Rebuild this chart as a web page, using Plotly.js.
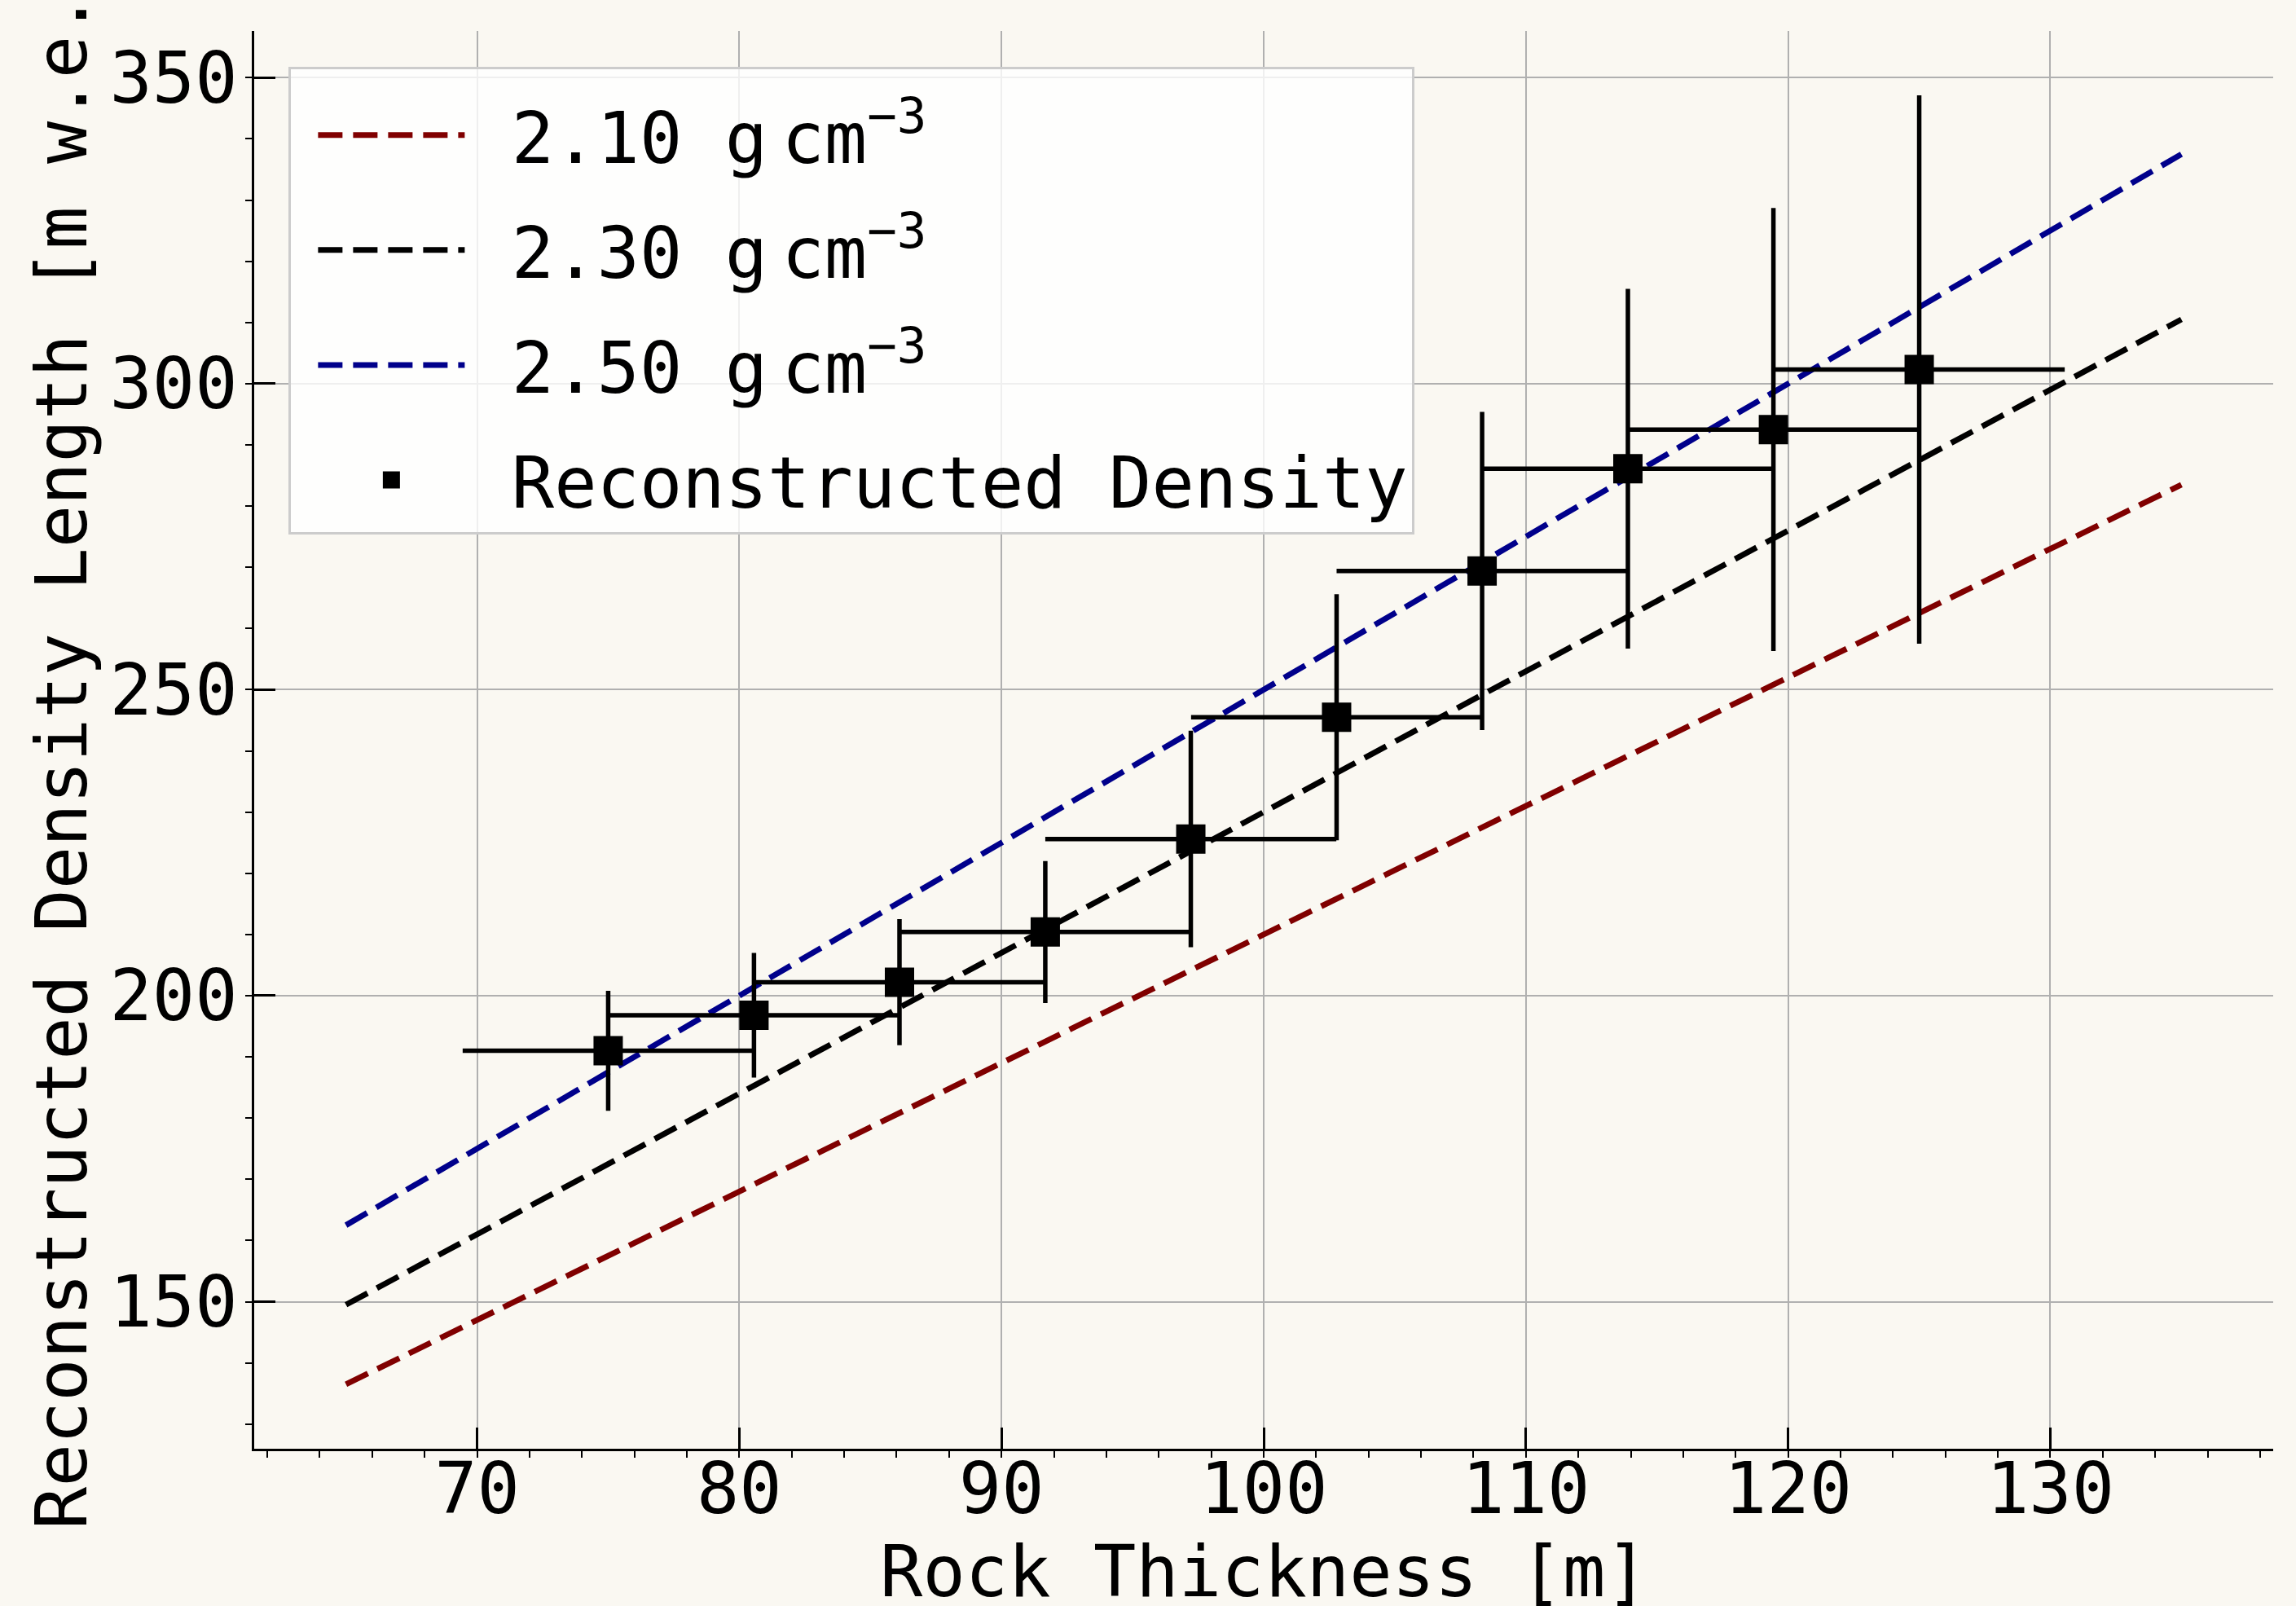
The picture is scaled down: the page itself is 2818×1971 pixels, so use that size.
<!DOCTYPE html>
<html>
<head>
<meta charset="utf-8">
<script src="https://cdn.plot.ly/plotly-3.0.1.min.js"></script>
<style>
html,body{margin:0;padding:0;background:#faf8f2;}
#chart{width:2818px;height:1971px;}
</style>
</head>
<body>
<div id="chart"></div>
<script>
// ---- data ----
const thickness = [75.00, 80.56, 86.11, 91.67, 97.22, 102.78, 108.33, 113.89, 119.44, 125.00];
const thicknessErr = [5.55, 5.55, 5.55, 5.55, 5.55, 5.55, 5.55, 5.55, 5.55, 5.55];
const densityLength = [191.0, 196.8, 202.2, 210.4, 225.6, 245.5, 269.4, 286.1, 292.5, 302.3];
const densityLengthErr = [9.8, 10.2, 10.3, 11.6, 17.7, 20.1, 26.0, 29.4, 36.2, 44.8];

const refThickness = [65, 135];
const ref210 = [136.5, 283.5];
const ref230 = [149.5, 310.5];
const ref250 = [162.5, 337.5];

const unitText = 'g<span style="font-family:DejaVu Sans">\u2009</span>cm<sup>\u22123</sup>';
const seriesNames = ['\u00a02.10 ' + unitText, '\u00a02.30 ' + unitText, '\u00a02.50 ' + unitText, '\u00a0Reconstructed Density'];
const xTitle = 'Rock Thickness [m]';
const yTitle = 'Reconstructed Density Length [m w.e.]';

// ---- styling ----
const FONT = 'DejaVu Sans Mono';
const FS = 87;
const BG = '#faf8f2';
const dashStyle = '30px,13px';

function refLine(y, name, color, grp) {
  return {
    x: refThickness, y: y, type: 'scatter', mode: 'lines', name: name,
    legendgroup: grp,
    line: {color: color, width: 7, dash: dashStyle},
    hoverinfo: 'skip'
  };
}

const traces = [
  refLine(ref210, seriesNames[0], '#800000', 'a'),
  refLine(ref230, seriesNames[1], '#000000', 'b'),
  refLine(ref250, seriesNames[2], '#00008b', 'c'),
  {
    x: thickness, y: densityLength, type: 'scatter', mode: 'markers',
    name: seriesNames[3], legendgroup: 'd',
    marker: {symbol: 'square', size: 30, color: '#000000', line: {width: 6, color: '#000000'}},
    error_x: {type: 'data', array: thicknessErr, visible: true, color: '#000000', thickness: 5.5, width: 0},
    error_y: {type: 'data', array: densityLengthErr, visible: true, color: '#000000', thickness: 5.5, width: 0}
  }
];

const XR = [61.5, 138.5];
const YR = [125.97, 357.63];

const axisFont = {family: FONT, size: FS, color: '#000000'};

const layout = {
  width: 2818, height: 1971,
  paper_bgcolor: BG, plot_bgcolor: BG,
  margin: {l: 312, r: 28, t: 38, b: 193, pad: 0},
  font: {family: FONT, size: FS, color: '#000000'},
  showlegend: true,
  xaxis: {
    range: XR, tick0: 0, dtick: 10,
    ticks: 'inside', ticklen: 26, tickwidth: 3, tickcolor: '#000000',
    showline: true, linewidth: 3, linecolor: '#000000', mirror: false,
    showgrid: true, gridcolor: '#b0b0b0', gridwidth: 2, zeroline: false,
    tickfont: axisFont, ticklabelstandoff: -28,
    minor: {dtick: 2, tick0: 0, ticks: 'outside', ticklen: 8, tickwidth: 2, tickcolor: '#000000', showgrid: false}
  },
  yaxis: {
    range: YR, tick0: 0, dtick: 50,
    ticks: 'inside', ticklen: 26, tickwidth: 3, tickcolor: '#000000',
    showline: true, linewidth: 3, linecolor: '#000000', mirror: false,
    showgrid: true, gridcolor: '#b0b0b0', gridwidth: 2, zeroline: false,
    tickfont: axisFont,
    minor: {dtick: 10, tick0: 0, ticks: 'outside', ticklen: 8, tickwidth: 2, tickcolor: '#000000', showgrid: false},
    title: {text: yTitle, font: axisFont, standoff: 0}
  },
  xaxis2: {
    overlaying: 'x', side: 'top', anchor: 'y', range: XR, tick0: 0, dtick: 10,
    ticks: 'inside', ticklen: 26, tickwidth: 3, tickcolor: '#000000',
    showticklabels: false, showgrid: false, zeroline: false,
    showline: true, linewidth: 3, linecolor: '#000000'
  },
  yaxis2: {
    overlaying: 'y', side: 'right', anchor: 'x', range: YR, tick0: 0, dtick: 50,
    ticks: 'inside', ticklen: 26, tickwidth: 3, tickcolor: '#000000',
    showticklabels: false, showgrid: false, zeroline: false,
    showline: true, linewidth: 3, linecolor: '#000000'
  },
  annotations: [{
    text: xTitle, xref: 'paper', yref: 'paper', x: 0.5, y: -0.0865,
    xanchor: 'center', yanchor: 'middle', showarrow: false,
    font: axisFont
  }],
  legend: {
    x: 0.0171, y: 0.975, xanchor: 'left', yanchor: 'top',
    bgcolor: 'rgba(255,255,255,0.8)', bordercolor: '#cccccc', borderwidth: 3,
    font: {family: FONT, size: FS, color: '#000000'},
    itemwidth: 180, traceorder: 'grouped', tracegroupgap: 25,
    itemsizing: 'trace', indentation: 28,
    title: {text: '\u00a0', font: {family: FONT, size: 14}}
  }
};

Plotly.newPlot('chart', traces, layout, {displayModeBar: false, staticPlot: true});
</script>
</body>
</html>
